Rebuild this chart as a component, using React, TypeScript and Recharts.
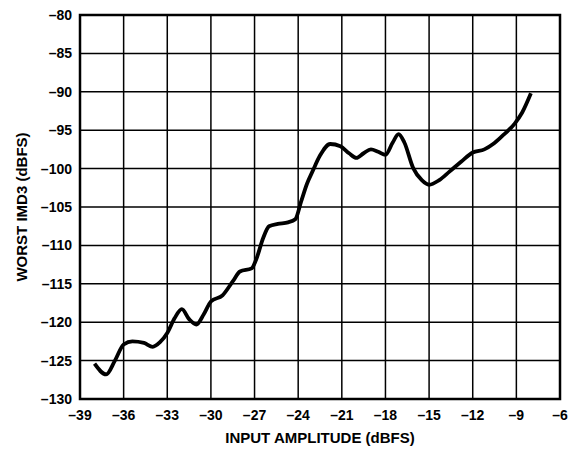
import React from 'react';
import { LineChart, Line, XAxis, YAxis, CartesianGrid, ReferenceArea } from 'recharts';

const inputAmp = [
  -38, -37.2, -36.6, -36, -35.4, -34.6, -34, -33.5, -33, -32.5, -32, -31.5, -31, -30.5, -30,
  -29.2, -28.5, -28, -27.2, -26.9, -26.4, -26, -25.4, -24.7, -24.2, -23.8, -23.4, -23, -22.5,
  -21.8, -21.1, -20.5, -20, -19.5, -19, -18.5, -18, -17.5, -17.1, -16.7, -16.1, -15.5, -15,
  -14.3, -13.6, -12.8, -12, -11.2, -10.6, -10, -9.1, -8.6, -8,
];
const worstImd3 = [
  -125.4, -126.8, -125.0, -122.9, -122.5, -122.7, -123.2, -122.6, -121.4, -119.5, -118.3,
  -119.6, -120.3, -119.0, -117.3, -116.5, -114.7, -113.4, -113.0, -111.9, -109.0, -107.5,
  -107.2, -107.0, -106.6, -104.3, -102.0, -100.3, -98.3, -96.8, -97.1, -98.0, -98.6, -98.0,
  -97.5, -97.8, -98.2, -96.6, -95.5, -96.6, -99.9, -101.5, -102.1, -101.5, -100.4, -99.1,
  -97.9, -97.5, -96.8, -95.8, -94.1, -92.7, -90.2,
];
const xTicks = [-39, -36, -33, -30, -27, -24, -21, -18, -15, -12, -9, -6];
const yTicks = [-130, -125, -120, -115, -110, -105, -100, -95, -90, -85, -80];

const data = inputAmp.map((x, i) => ({ x, y: worstImd3[i] }));

const FONT = '"Liberation Sans", Arial, sans-serif';
const tickStyle = { fill: '#000', fontSize: 14, fontWeight: 700, fontFamily: FONT };
const titleStyle = { ...tickStyle, fontSize: 15 };
const fmt = (v: number) => (v < 0 ? '\u2013' + Math.abs(v) : String(v));

const XLabel = (props: any) => {
  const { viewBox } = props;
  return (
    <text x={viewBox.x + viewBox.width / 2} y={443} textAnchor="middle" style={titleStyle}>
      INPUT AMPLITUDE (dBFS)
    </text>
  );
};

const YLabel = (props: any) => {
  const { viewBox } = props;
  const cy = viewBox.y + viewBox.height / 2;
  return (
    <text x={27} y={cy} textAnchor="middle" transform={`rotate(-90, 27, ${cy})`} style={titleStyle}>
      WORST IMD3 (dBFS)
    </text>
  );
};

export default function App() {
  return (
    <div style={{ position: 'absolute', left: 0, top: 0, background: '#fff' }}>
      <LineChart width={574} height={450} data={data} margin={{ top: 15, right: 14, bottom: 0, left: 0 }}>
        <CartesianGrid stroke="#000" strokeWidth={1.5} />
        <XAxis
          type="number"
          dataKey="x"
          domain={[-39, -6]}
          ticks={xTicks}
          tickFormatter={fmt}
          tick={tickStyle}
          tickLine={false}
          axisLine={false}
          tickMargin={5}
          height={51}
          interval={0}
          label={<XLabel />}
        />
        <YAxis
          type="number"
          dataKey="y"
          domain={[-130, -80]}
          ticks={yTicks}
          tickFormatter={fmt}
          tick={tickStyle}
          tickLine={false}
          axisLine={false}
          width={80}
          interval={0}
          label={<YLabel />}
        />
        <ReferenceArea x1={-39} x2={-6} y1={-130} y2={-80} fill="none" stroke="#000" strokeWidth={2.5} />
        <Line
          type="monotone"
          dataKey="y"
          stroke="#000"
          strokeWidth={3.8}
          dot={false}
          isAnimationActive={false}
        />
      </LineChart>
    </div>
  );
}
